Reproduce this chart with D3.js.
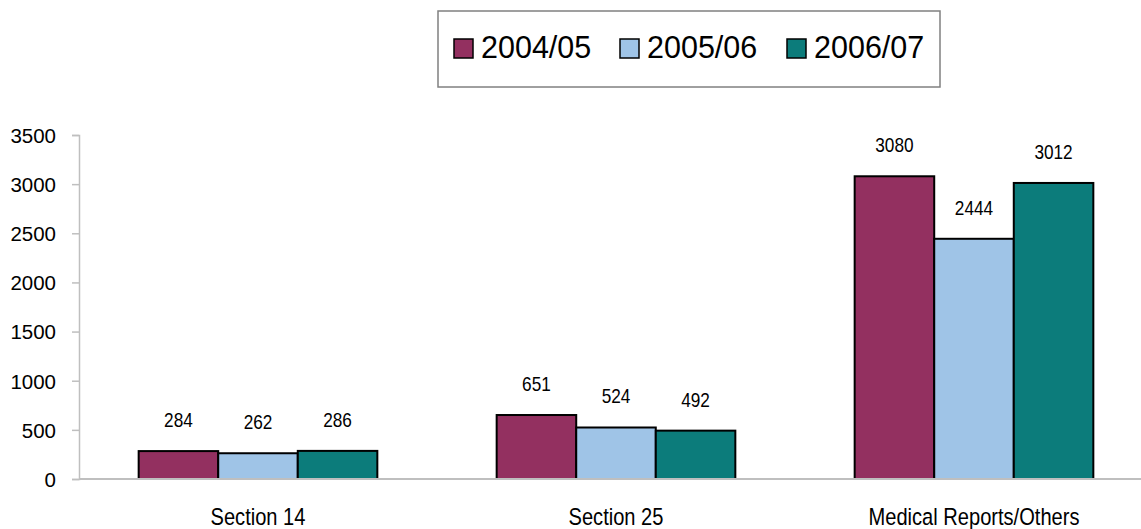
<!DOCTYPE html>
<html>
<head>
<meta charset="utf-8">
<script src="https://cdn.jsdelivr.net/npm/d3@7"></script>
<style>
    html, body { margin: 0; padding: 0; background: #fff; }
    svg { display: block; }
</style>
</head>
<body>
<svg id="chart" width="1141" height="529"></svg>
<script>
const CATEGORIES = ['Section 14', 'Section 25', 'Medical Reports/Others'];
const SERIES = ['2004/05', '2005/06', '2006/07'];
const VALUES_2004 = [284, 651, 3080];
const VALUES_2005 = [262, 524, 2444];
const VALUES_2006 = [286, 492, 3012];
const Y_TICKS = [0, 500, 1000, 1500, 2000, 2500, 3000, 3500];

const COLORS = ['#933060', '#9fc4e7', '#0c7c7b'];

const CHART_PARAMS = {
    width: 1141,
    height: 529,
    axisX: 79,
    plotRight: 1153,
    top: 135,
    bottom: 479,
    narrow: 0.82
};

const FONT = "'Liberation Sans', Arial, sans-serif";

const seriesValues = [VALUES_2004, VALUES_2005, VALUES_2006];
const rows = CATEGORIES.map((c, i) => ({
    category: c,
    values: SERIES.map((s, j) => ({series: s, idx: j, value: seriesValues[j][i]}))
}));

const svg = d3.select('#chart');

const x0 = d3.scaleBand()
    .domain(CATEGORIES)
    .range([CHART_PARAMS.axisX, CHART_PARAMS.plotRight])
    .paddingInner(1 / 3)
    .paddingOuter(1 / 6);

const x1 = d3.scaleBand()
    .domain(SERIES)
    .range([0, x0.bandwidth()]);

const y = d3.scaleLinear()
    .domain([0, 3500])
    .range([CHART_PARAMS.bottom, CHART_PARAMS.top]);

// y axis
const yAxis = svg.append('g')
    .attr('transform', `translate(${CHART_PARAMS.axisX}, 0)`)
    .call(d3.axisLeft(y).tickValues(Y_TICKS).tickSize(7).tickPadding(16).tickFormat(d3.format('d')));

yAxis.select('.domain').attr('stroke', '#bfbfbf').attr('stroke-width', 1.5);
yAxis.selectAll('.tick line').attr('stroke', '#bfbfbf').attr('stroke-width', 1.5);
yAxis.selectAll('.tick text')
    .attr('fill', '#000')
    .attr('dy', '0.36em')
    .style('font-family', FONT)
    .style('font-size', '20.5px');

// bars
const groups = svg.append('g')
    .selectAll('g')
    .data(rows)
    .enter().append('g')
    .attr('transform', (d) => `translate(${x0(d.category)}, 0)`);

groups.selectAll('rect')
    .data((d) => d.values)
    .enter().append('rect')
    .attr('x', (d) => x1(d.series))
    .attr('y', (d) => y(d.value))
    .attr('width', x1.bandwidth())
    .attr('height', (d) => y(0) - y(d.value))
    .attr('fill', (d) => COLORS[d.idx])
    .attr('stroke', '#000')
    .attr('stroke-width', 2);

// value labels, squeezed horizontally to look like a narrow face
groups.selectAll('text')
    .data((d) => d.values)
    .enter().append('text')
    .attr('transform', (d) => `translate(${x1(d.series) + x1.bandwidth() / 2}, ${y(d.value) - 24}) scale(${CHART_PARAMS.narrow}, 1)`)
    .attr('text-anchor', 'middle')
    .style('font-family', FONT)
    .style('font-size', '21px')
    .text((d) => d.value);

// x axis line + category labels
svg.append('line')
    .attr('x1', CHART_PARAMS.axisX)
    .attr('x2', CHART_PARAMS.width)
    .attr('y1', y(0))
    .attr('y2', y(0))
    .attr('stroke', '#bfbfbf')
    .attr('stroke-width', 2);

svg.append('g')
    .selectAll('text')
    .data(CATEGORIES)
    .enter().append('text')
    .attr('transform', (d) => `translate(${x0(d) + x0.bandwidth() / 2}, 525) scale(${CHART_PARAMS.narrow}, 1)`)
    .attr('text-anchor', 'middle')
    .style('font-family', FONT)
    .style('font-size', '24.5px')
    .text((d) => d);

// legend
const legend = svg.append('g');
legend.append('rect')
    .attr('x', 438)
    .attr('y', 11)
    .attr('width', 502)
    .attr('height', 76)
    .attr('fill', '#fff')
    .attr('stroke', '#808080')
    .attr('stroke-width', 1.5);

const LEGEND_X = [454, 620, 787];
const items = legend.selectAll('g.item')
    .data(SERIES)
    .enter().append('g')
    .attr('class', 'item')
    .attr('transform', (d, i) => `translate(${LEGEND_X[i]}, 39)`);

items.append('rect')
    .attr('width', 19)
    .attr('height', 19)
    .attr('fill', (d, i) => COLORS[i])
    .attr('stroke', '#000')
    .attr('stroke-width', 1.5);

items.append('text')
    .attr('x', 27)
    .attr('y', 18.5)
    .style('font-family', FONT)
    .style('font-size', '30.5px')
    .text((d) => d);
</script>
</body>
</html>
